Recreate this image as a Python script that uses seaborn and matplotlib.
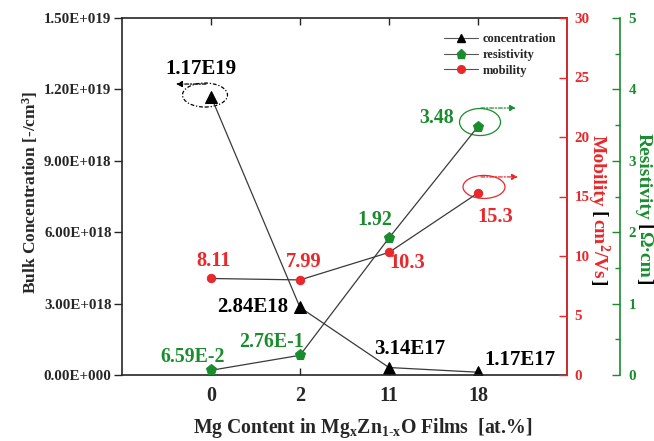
import numpy as np
import pandas as pd
import seaborn as sns
import matplotlib
matplotlib.use("Agg")
import matplotlib.pyplot as plt
from matplotlib import transforms
from matplotlib.patches import Ellipse
from matplotlib.lines import Line2D
from matplotlib.ticker import FuncFormatter, MultipleLocator

# Mg content of the Mg_xZn_(1-x)O films and the Hall / resistivity results
mg_content = ["0", "2", "11", "18"]
concentration = [1.17e19, 2.84e18, 3.14e17, 1.17e17]   # cm^-3
mobility = [8.11, 7.99, 10.3, 15.3]                     # cm^2/Vs
resistivity = [0.0659, 0.276, 1.92, 3.48]               # Ohm cm

RED = "#E8282B"
GREEN = "#1A8C2E"
LINE = "#3a3a3a"

sns.set_style("ticks")
plt.rcParams.update({
    "font.family": ["Liberation Serif", "DejaVu Serif"],
    "font.weight": "bold",
    "mathtext.fontset": "custom",
    "mathtext.rm": "Liberation Serif:bold",
    "mathtext.it": "Liberation Serif:bold",
    "mathtext.bf": "Liberation Serif:bold",
    "mathtext.default": "rm",
    "axes.linewidth": 1.2,
})

W, H = 654, 441
fig = plt.figure(figsize=(W / 100, H / 100), dpi=100)
ax = fig.add_axes([122 / W, 1 - 375 / H, 445 / W, 357 / H])

df = pd.DataFrame({
    "pos": np.arange(len(mg_content)),
    "mg": mg_content,
    "concentration": concentration,
    "mobility": mobility,
    "resistivity": resistivity,
})


def fmt_conc(v):
    e = int(np.floor(np.log10(v)))
    return f"{v / 10 ** e:.2f}E{e}"


def fmt_res(v):
    if v >= 1:
        return f"{v:.2f}"
    e = int(np.floor(np.log10(v)))
    return f"{v / 10 ** e:.2f}E{e}"


def fmt_mob(v):
    return f"{v:.3g}"


def sci_tick(v, _):
    if v <= 0:
        return "0.00E+000"
    e = int(np.floor(np.log10(v) + 1e-9))
    return f"{v / 10 ** e:.2f}E+{e:03d}"


# ---- concentration (left axis) ----
sns.lineplot(data=df, x="pos", y="concentration", ax=ax, color=LINE, lw=0.9,
             marker="^", markersize=8, markerfacecolor="black",
             markeredgecolor="black", legend=False)
ax.set_xlim(-1, 4)
ax.set_ylim(0, 1.5e19)
ax.set_xticks(df["pos"], mg_content)
ax.yaxis.set_major_locator(MultipleLocator(3e18))
ax.yaxis.set_major_formatter(FuncFormatter(sci_tick))
ax.set_xlabel("")
ax.set_ylabel("")
ax.tick_params(axis="x", direction="in", top=True, bottom=True, length=5,
               width=1, pad=8, labelsize=14.5)
ax.tick_params(axis="y", direction="out", left=True, right=False, length=6,
               width=1, pad=1.5, labelsize=10.8)
for lab in ax.get_xticklabels() + ax.get_yticklabels():
    lab.set_fontweight("bold")

# ---- mobility (first right axis) ----
ax_mob = ax.twinx()
sns.lineplot(data=df, x="pos", y="mobility", ax=ax_mob, color=LINE, lw=0.9,
             marker="o", markersize=6, markerfacecolor=RED,
             markeredgecolor=RED, legend=False)
ax_mob.set_ylim(0, 30)
ax_mob.yaxis.set_major_locator(MultipleLocator(5))
ax_mob.tick_params(axis="y", direction="in", length=6, width=1, pad=5.5,
                   labelsize=10.8, colors=RED)
ax_mob.spines["right"].set_color(RED)
ax_mob.set_ylabel("")

# ---- resistivity (offset right axis) ----
ax_res = ax.twinx()
ax_res.spines["right"].set_position(("axes", (620 - 122) / 445))
sns.lineplot(data=df, x="pos", y="resistivity", ax=ax_res, color=LINE, lw=0.9,
             marker="p", markersize=8, markerfacecolor=GREEN,
             markeredgecolor=GREEN, legend=False)
ax_res.set_ylim(0, 5)
ax_res.yaxis.set_major_locator(MultipleLocator(1))
ax_res.yaxis.set_minor_locator(MultipleLocator(0.5))
ax_res.tick_params(axis="y", which="major", direction="in", length=6, width=1,
                   pad=6, labelsize=10.8, colors=GREEN)
ax_res.tick_params(axis="y", which="minor", direction="in", length=3.5,
                   width=1, colors=GREEN)
ax_res.spines["right"].set_color(GREEN)
ax_res.set_ylabel("")

for a in (ax_mob, ax_res):
    for s in ("left", "top", "bottom"):
        a.spines[s].set_visible(False)
    for lab in a.get_yticklabels():
        lab.set_fontweight("bold")

# ---- value labels ----
conc_off = [(-10, 28), (-47, 0), (21, 19), (42, 12)]
mob_off = [(3, 17), (4, 18), (18, -11), (17, -24)]
res_off = [(-18, 13), (-28, 13), (-14, 18), (-41, 9)]

for i, p in enumerate(df["pos"]):
    ax.annotate(fmt_conc(concentration[i]), (p, concentration[i]),
                xytext=conc_off[i], textcoords="offset pixels",
                ha="center", va="center", fontsize=15, fontweight="bold",
                color="black", annotation_clip=False)
    ax_mob.annotate(fmt_mob(mobility[i]), (p, mobility[i]),
                    xytext=mob_off[i], textcoords="offset pixels",
                    ha="center", va="center", fontsize=14.8,
                    fontweight="bold", color=RED, annotation_clip=False)
    ax_res.annotate(fmt_res(resistivity[i]), (p, resistivity[i]),
                    xytext=res_off[i], textcoords="offset pixels",
                    ha="center", va="center", fontsize=14.3,
                    fontweight="bold", color=GREEN, annotation_clip=False)


# ---- ellipses with arrows pointing to each series' axis ----
def around(axis, idx, values, ell, arrow, color, ell_ls, arrow_ls):
    trans = fig.dpi_scale_trans + transforms.ScaledTranslation(
        idx, values[idx], axis.transData)
    (dx, dy, w, h) = ell
    axis.add_patch(Ellipse((dx / 100, dy / 100), w / 100, h / 100,
                           transform=trans, fill=False, ec=color, lw=0.9,
                           ls=ell_ls, clip_on=False))
    (sx, sy), (ex, ey) = arrow
    axis.annotate("", xy=(ex / 100, ey / 100), xycoords=trans,
                  xytext=(sx / 100, sy / 100), textcoords=trans,
                  arrowprops=dict(arrowstyle="-|>", color=color, lw=0.9,
                                  ls=arrow_ls, mutation_scale=9,
                                  shrinkA=0, shrinkB=0),
                  annotation_clip=False)


dashdot = (0, (3, 1.5, 1, 1.5))
around(ax, 0, concentration, (-6, 1.5, 45, 24), ((-5, 12.5), (-35, 12.5)),
       "black", dashdot, dashdot)
around(ax_res, 3, resistivity, (2, 4.5, 41, 27), ((3, 18.5), (38, 18.5)),
       GREEN, "-", dashdot)
around(ax_mob, 3, mobility, (6, 6, 42, 23), ((3, 16), (40, 16)),
       RED, "-", dashdot)

# ---- legend ----
handles = [
    Line2D([0], [0], color="#555555", lw=0.8, marker="^", ms=6,
           mfc="black", mec="black"),
    Line2D([0], [0], color="#555555", lw=0.8, marker="p", ms=6.5,
           mfc=GREEN, mec=GREEN),
    Line2D([0], [0], color="#555555", lw=0.8, marker="o", ms=5.5,
           mfc=RED, mec=RED),
]
fig.legend(handles, ["concentration", "resistivity", "mobility"],
           loc="upper left", bbox_to_anchor=(438 / W, 1 - 27 / H),
           frameon=False, borderpad=0, handlelength=2.7, handletextpad=0.4,
           labelspacing=0.3, prop={"size": 9, "weight": "bold"})

# ---- axis titles ----
fig.text(30 / W, 1 - 192 / H, r"Bulk Concentration [-/cm$^{\mathrm{3}}$]",
         rotation=90, ha="center", va="center", fontsize=12.5,
         fontweight="bold")
fig.text(363 / W, 1 - 433 / H,
         r"Mg Content in Mg$_{\mathrm{x}}$Zn$_{\mathrm{1\text{-}x}}$O Films  [at.%]",
         ha="center", va="baseline", fontsize=14.2, fontweight="bold")

renderer = fig.canvas.get_renderer()


def vertical_label(x_base, y_start, pieces, size):
    """Write a top-to-bottom label made of differently coloured pieces."""
    y = y_start
    space = 0.25 * size * fig.dpi / 72
    for text, color in pieces:
        if text == " ":
            y += space
            continue
        probe = fig.text(0, 0, text, fontsize=size, fontweight="bold")
        width = probe.get_window_extent(renderer).width
        probe.remove()
        fig.text(x_base / W, 1 - y / H, text, rotation=270,
                 rotation_mode="anchor", ha="left", va="baseline",
                 fontsize=size, fontweight="bold", color=color)
        y += width


vertical_label(593, 135, [("Mobility", RED), (" ", None), ("[", "black"),
                          (r"cm$^{\mathrm{2}}$/Vs", RED), ("]", "black")], 14)
vertical_label(639, 133, [("Resistivity", GREEN), (" ", None),
                          ("[", "black"), ("Ω·cm", GREEN), ("]", "black")], 14)

fig.savefig("out.png", dpi=100)
